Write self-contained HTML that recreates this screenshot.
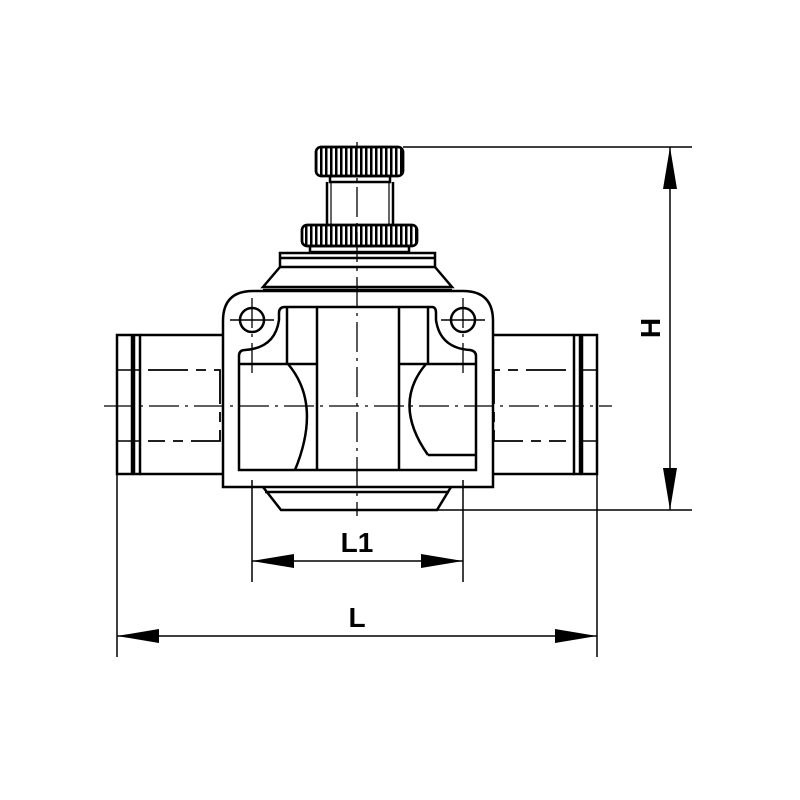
<!DOCTYPE html>
<html><head><style>body{margin:0;background:#fff}svg{display:block}</style></head><body>
<svg width="800" height="800" viewBox="0 0 800 800" xmlns="http://www.w3.org/2000/svg">
<defs>
<pattern id="kn" x="0" y="0" width="5" height="10" patternUnits="userSpaceOnUse"><rect x="0" y="0" width="2.5" height="10" fill="#000"/></pattern>
</defs>
<g fill="none" stroke="#000" stroke-width="2.5">
<!-- top knob -->
<rect x="316" y="147" width="87" height="29" rx="5" fill="url(#kn)"/>
<rect x="316" y="147" width="87" height="29" rx="5"/>
<rect x="330" y="176" width="60" height="6"/>
<line x1="327" y1="182" x2="327" y2="224"/><line x1="393" y1="182" x2="393" y2="224"/>
<line x1="331" y1="182" x2="331" y2="224" stroke-width="1.2"/><line x1="389" y1="182" x2="389" y2="224" stroke-width="1.2"/>
<!-- lower nut -->
<rect x="302" y="225" width="115" height="21" rx="5" fill="url(#kn)"/>
<rect x="302" y="225" width="115" height="21" rx="5"/>
<rect x="310" y="246" width="99" height="6"/>
<!-- bonnet -->
<rect x="280" y="253" width="155" height="14"/>
<line x1="280" y1="258" x2="435" y2="258"/>
<path d="M280 267 L263 287 L452 287 L435 267"/>
<line x1="263" y1="290" x2="452" y2="290"/>
<!-- body -->
<path d="M223 487 L223 321 Q223 291 253 291 L463 291 Q493 291 493 321 L493 487 Z"/>
<path d="M285 307 L432 307 Q436 307 436 313 L436 320 Q440 348 470 350 Q476 351 476 356 L476 470 L239 470 L239 356 Q239 350 245 350 Q275 348 279 320 L279 313 Q279 307 285 307 Z"/>
<circle cx="252" cy="320" r="12"/><circle cx="463" cy="320" r="12"/>
<line x1="287" y1="307" x2="287" y2="364"/><line x1="317" y1="307" x2="317" y2="470"/>
<line x1="399" y1="307" x2="399" y2="470"/><line x1="428" y1="307" x2="428" y2="364"/>
<line x1="239" y1="364" x2="317" y2="364"/><line x1="399" y1="364" x2="476" y2="364"/>
<path d="M288 364 Q322 404 295 470"/>
<path d="M426 364 Q392 404 428 455"/>
<path d="M428 455 L476 455"/>
<!-- bottom bonnet -->
<path d="M263 487 L281 510 L437 510 L451 487"/>
<line x1="265" y1="492" x2="449" y2="492"/>
<!-- left fitting -->
<rect x="117" y="335" width="15" height="139"/>
<rect x="134" y="335" width="6" height="139"/>
<path d="M140 335 L223 335 M140 474 L223 474"/>
<path d="M117 370 L140 370 M117 441 L140 441" stroke-width="1.5"/>
<!-- right fitting -->
<rect x="582" y="335" width="15" height="139"/>
<rect x="574" y="335" width="6" height="139"/>
<path d="M493 335 L574 335 M493 474 L574 474"/>
<path d="M582 370 L597 370 M582 441 L597 441" stroke-width="1.5"/>
</g>
<!-- dashed hidden lines -->
<g fill="none" stroke="#000" stroke-width="1.8" stroke-dasharray="40,8,10,8">
<path d="M148 370 L220 370 L220 441 L148 441"/>
<path d="M566 370 L494 370 L494 441 L566 441"/>
</g>
<!-- center lines -->
<g fill="none" stroke="#000" stroke-width="1.3" stroke-dasharray="30,6,3,6">
<line x1="104" y1="406" x2="612" y2="406"/>
<line x1="357" y1="142" x2="357" y2="516"/>
<line x1="252" y1="298" x2="252" y2="378"/>
<line x1="463" y1="298" x2="463" y2="378"/>
</g>
<g stroke="#000" stroke-width="1.5">
<line x1="230" y1="320" x2="274" y2="320"/><line x1="441" y1="320" x2="485" y2="320"/>
<!-- dims -->
<line x1="403" y1="147" x2="692" y2="147"/>
<line x1="437" y1="510" x2="692" y2="510"/>
<line x1="670" y1="147" x2="670" y2="510"/>
<line x1="252" y1="480" x2="252" y2="582"/>
<line x1="463" y1="480" x2="463" y2="582"/>
<line x1="252" y1="561" x2="463" y2="561"/>
<line x1="117" y1="474" x2="117" y2="657"/>
<line x1="597" y1="474" x2="597" y2="657"/>
<line x1="117" y1="636" x2="597" y2="636"/>
</g>
<g fill="#000">
<path d="M670 147 L663 189 L677 189 Z"/>
<path d="M670 510 L663 468 L677 468 Z"/>
<path d="M252 561 L294 554 L294 568 Z"/>
<path d="M463 561 L421 554 L421 568 Z"/>
<path d="M117 636 L159 629 L159 643 Z"/>
<path d="M597 636 L555 629 L555 643 Z"/>
</g>
<g font-family="Liberation Sans, sans-serif" font-weight="bold" font-size="28" text-anchor="middle">
<text x="357" y="552">L1</text>
<text x="357" y="627">L</text>
<text transform="translate(660,328) rotate(-90)">H</text>
</g>
</svg>
</body></html>
